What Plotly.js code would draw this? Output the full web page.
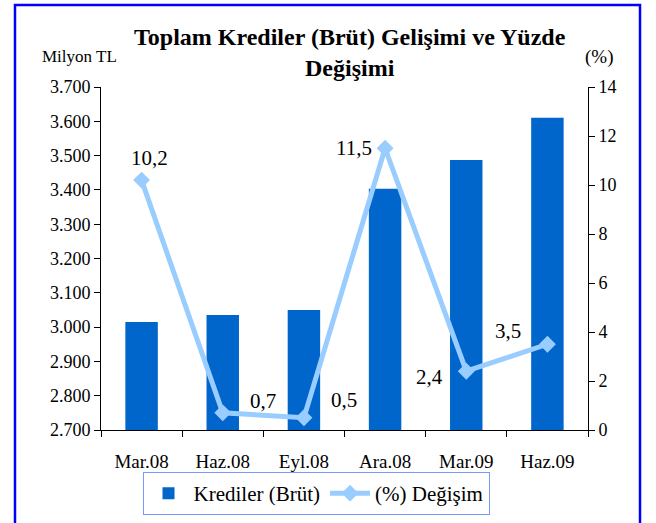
<!DOCTYPE html>
<html><head><meta charset="utf-8">
<script src="https://cdn.plot.ly/plotly-3.0.1.min.js"></script>
<style>body{margin:0;background:#fff}#c{width:656px;height:523px}</style>
</head><body><div id="c"></div>
<script>
var categories = ["Mar.08","Haz.08","Eyl.08","Ara.08","Mar.09","Haz.09"];
var krediler = [3015, 3035, 3050, 3403, 3487, 3610];
var degisim = [10.2, 0.7, 0.5, 11.5, 2.4, 3.5];
var leftTicks = [2700,2800,2900,3000,3100,3200,3300,3400,3500,3600,3700];
var rightTicks = [0,2,4,6,8,10,12,14];
// label offsets (px) per point
var labelShift = [[8,22],[40,12],[40,18],[-31,0],[-37,-6],[-39,13]];

var F = "Liberation Serif";
var traces = [
  {type:"bar", name:"Krediler (Brüt)", x:categories, y:krediler, marker:{color:"#0066CC"}, width:0.4, yaxis:"y"},
  {type:"scatter", mode:"lines+markers", name:"(%) Değişim", x:categories, y:degisim, yaxis:"y2",
   line:{color:"#99CCFF", width:5}, marker:{symbol:"diamond", size:13, color:"#99CCFF"}}
];
var ann = degisim.map(function(v,i){
  return {x:categories[i], y:v, xref:"x", yref:"y2", text:v.toFixed(1).replace(".", ","), showarrow:false,
    xshift:labelShift[i][0], yshift:labelShift[i][1], font:{family:F, size:21, color:"#000"}};
});
function py(pix){ return (430-pix)/343; }
ann.push({xref:"paper", yref:"paper", x:(79-101)/487, y:py(57), yanchor:"middle", xanchor:"center", text:"Milyon TL", showarrow:false, font:{family:F, size:17, color:"#000"}});
ann.push({xref:"paper", yref:"paper", x:(599-101)/487, y:py(57), yanchor:"middle", xanchor:"center", text:"(%)", showarrow:false, font:{family:F, size:19, color:"#000"}});
ann.push({xref:"paper", yref:"paper", x:(350-101)/487, y:py(37), yanchor:"middle", xanchor:"center", text:"<b>Toplam Krediler (Brüt) Gelişimi ve Yüzde</b>", showarrow:false, font:{family:F, size:24, color:"#000"}});
ann.push({xref:"paper", yref:"paper", x:(350-101)/487, y:py(68), yanchor:"middle", xanchor:"center", text:"<b>Değişimi</b>", showarrow:false, font:{family:F, size:24, color:"#000"}});

var axCommon = {showgrid:false, zeroline:false, showline:true, linecolor:"#000", linewidth:1, automargin:false,
  ticks:"outside", ticklen:6, tickcolor:"#000", tickfont:{family:F, size:18, color:"#000"}};
var layout = {
  width:656, height:523, margin:{l:101, r:68, t:87, b:93, autoexpand:false},
  paper_bgcolor:"#fff", plot_bgcolor:"#fff", separators:",.",
  showlegend:true,
  xaxis:Object.assign({}, axCommon, {type:"category", tickson:"boundaries", ticklen:6, ticklabelstandoff:14, range:[-0.5,5.5], tickfont:{family:F, size:19, color:"#000"}}),
  yaxis:Object.assign({}, axCommon, {range:[2700,3700], tickvals:leftTicks, tickformat:",.0f"}),
  yaxis2:Object.assign({}, axCommon, {range:[0,14], tickvals:rightTicks, overlaying:"y", side:"right"}),
  yaxis3:{overlaying:"y", range:[2700,3700], tickvals:leftTicks, ticks:"inside", ticklen:4, tickcolor:"#000", showticklabels:false, showgrid:false, zeroline:false, showline:false},
  yaxis4:{overlaying:"y", side:"right", range:[0,14], tickvals:rightTicks, ticks:"inside", ticklen:4, tickcolor:"#000", showticklabels:false, showgrid:false, zeroline:false, showline:false},
  legend:{orientation:"h", x:(316-101)/487, xanchor:"center", y:py(472), yanchor:"top", bordercolor:"#7799ff", borderwidth:1,
    font:{family:F, size:21, color:"#000"}, bgcolor:"#fff", itemwidth:40},
  annotations:ann,
  shapes:[{type:"rect", xref:"paper", yref:"paper", x0:-0.1766, x1:1.1068, y0:1.239, y1:-0.35, line:{color:"#0000FF", width:2.5}}]
};
Plotly.newPlot("c", traces, layout, {staticPlot:true});
</script></body></html>
